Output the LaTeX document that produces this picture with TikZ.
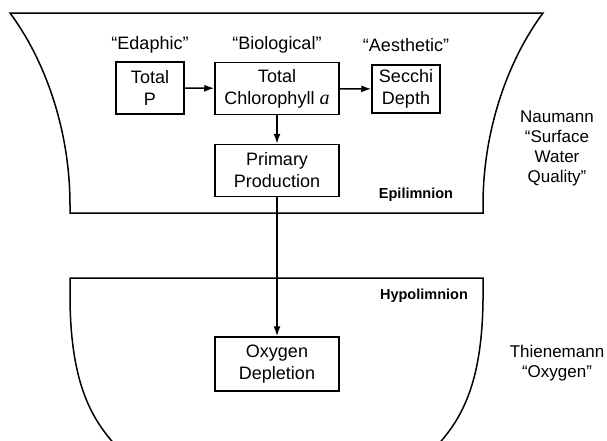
\documentclass[tikz,border=0pt]{standalone}
\usepackage{fontspec}
\setmainfont{Liberation Sans}
\newfontfamily\chlserif{Liberation Serif}
\usetikzlibrary{positioning,arrows.meta}

\begin{document}
\begin{tikzpicture}[
  x=1pt,
  y=-1pt,
  font=\fontsize{18}{22}\selectfont,
  box/.style={draw, line width=1.5pt, align=center, inner sep=2pt, minimum width=124pt, minimum height=52pt},
  smallbox/.style={box, minimum width=68pt},
  zone/.style={font=\fontsize{14.5}{17}\selectfont\bfseries},
  side/.style={align=center, font=\fontsize{17}{20}\selectfont},
  basin/.style={line width=1.5pt},
  arr/.style={-{Latex[length=10pt,width=7pt]}, line width=1.5pt}
]
\useasboundingbox (0,0) rectangle (607,440);
\clip (0,0) rectangle (607,440);

% Epilimnion (oben)
\draw[basin] (10,13) -- (543,13) .. controls (508,60) and (483,130) .. (483,205)
  -- (483,213) -- (70,213) -- (70,205) .. controls (70,130) and (45,60) .. cycle;

% Hypolimnion (unten, vom Rand abgeschnitten)
\draw[basin] (118,448) .. controls (92,420) and (71,385) .. (70,300) -- (70,278)
  -- (483,278) -- (483,300) .. controls (482,385) and (461,420) .. (435,448);

% Kriterien
\node (edaphic)    at (150,45) {“Edaphic”};
\node (biological) at (277,45) {“Biological”};
\node (aesthetic)  at (406,45) {“Aesthetic”};

% Kästen
\node[smallbox] (totalP) at (150,88) {Total\\P};
\node[box] (chloro) at (277,88.5) {Total\\Chlorophyll {\chlserif\itshape\fontsize{20}{22}\selectfont a}};
\node[smallbox, minimum height=48pt] (secchi) at (406,89) {Secchi\\Depth};
\node[box] (primary) at (277,170.5) {Primary\\Production};
\node[box, minimum height=54pt] (oxygen) at (277,364) {Oxygen\\Depletion};

% Schichten
\node[zone] (epi)  at (416,195) {Epilimnion};
\node[zone] (hypo) at (424,296) {Hypolimnion};

% Seitenbeschriftung
\node[side] (naumann)     at (557,148) {Naumann\\“Surface\\Water\\Quality”};
\node[side] (thienemann)  at (557,363) {Thienemann\\“Oxygen”};

% Pfeile
\draw[arr] (totalP) -- (chloro);
\draw[arr] (chloro) -- (secchi);
\draw[arr] (chloro) -- (primary);
\draw[arr] (primary) -- (oxygen);

\end{tikzpicture}
\end{document}
